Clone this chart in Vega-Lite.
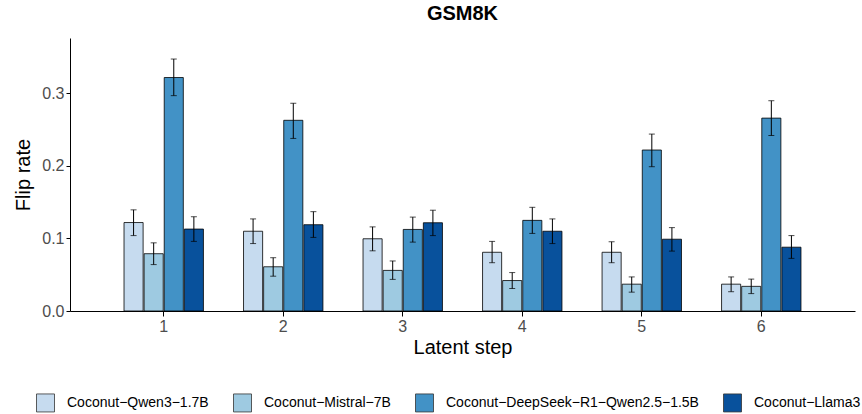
{
  "$schema": "https://vega.github.io/schema/vega-lite/v6.json",
  "autosize": {"type": "none"},
  "padding": {"left": 70, "top": 38, "right": 7, "bottom": 103},
  "width": 785,
  "height": 273,
  "background": "white",
  "title": {"text": "GSM8K", "fontSize": 20, "fontWeight": "bold", "color": "black", "anchor": "middle", "offset": 14},
  "config": {
    "font": "Liberation Sans",
    "view": {"stroke": null},
    "axis": {"grid": false, "domainColor": "black", "tickColor": "black", "labelColor": "#4d4d4d", "titleColor": "black", "titleFontWeight": "normal", "labelFontSize": 16, "titleFontSize": 20}
  },
  "data": {"values": [
    {"step": "1", "model": "Coconut−Qwen3−1.7B", "rate": 0.122, "lo": 0.104, "hi": 0.1395},
    {"step": "1", "model": "Coconut−Mistral−7B", "rate": 0.079, "lo": 0.064, "hi": 0.094},
    {"step": "1", "model": "Coconut−DeepSeek−R1−Qwen2.5−1.5B", "rate": 0.322, "lo": 0.297, "hi": 0.3475},
    {"step": "1", "model": "Coconut−Llama3", "rate": 0.113, "lo": 0.096, "hi": 0.130},
    {"step": "2", "model": "Coconut−Qwen3−1.7B", "rate": 0.110, "lo": 0.093, "hi": 0.127},
    {"step": "2", "model": "Coconut−Mistral−7B", "rate": 0.061, "lo": 0.048, "hi": 0.0735},
    {"step": "2", "model": "Coconut−DeepSeek−R1−Qwen2.5−1.5B", "rate": 0.263, "lo": 0.238, "hi": 0.2865},
    {"step": "2", "model": "Coconut−Llama3", "rate": 0.119, "lo": 0.1015, "hi": 0.137},
    {"step": "3", "model": "Coconut−Qwen3−1.7B", "rate": 0.0996, "lo": 0.083, "hi": 0.116},
    {"step": "3", "model": "Coconut−Mistral−7B", "rate": 0.056, "lo": 0.0436, "hi": 0.069},
    {"step": "3", "model": "Coconut−DeepSeek−R1−Qwen2.5−1.5B", "rate": 0.1125, "lo": 0.095, "hi": 0.1295},
    {"step": "3", "model": "Coconut−Llama3", "rate": 0.1217, "lo": 0.104, "hi": 0.139},
    {"step": "4", "model": "Coconut−Qwen3−1.7B", "rate": 0.081, "lo": 0.0666, "hi": 0.096},
    {"step": "4", "model": "Coconut−Mistral−7B", "rate": 0.042, "lo": 0.031, "hi": 0.053},
    {"step": "4", "model": "Coconut−DeepSeek−R1−Qwen2.5−1.5B", "rate": 0.125, "lo": 0.107, "hi": 0.143},
    {"step": "4", "model": "Coconut−Llama3", "rate": 0.110, "lo": 0.093, "hi": 0.127},
    {"step": "5", "model": "Coconut−Qwen3−1.7B", "rate": 0.081, "lo": 0.0666, "hi": 0.0955},
    {"step": "5", "model": "Coconut−Mistral−7B", "rate": 0.037, "lo": 0.026, "hi": 0.047},
    {"step": "5", "model": "Coconut−DeepSeek−R1−Qwen2.5−1.5B", "rate": 0.222, "lo": 0.199, "hi": 0.244},
    {"step": "5", "model": "Coconut−Llama3", "rate": 0.099, "lo": 0.0826, "hi": 0.115},
    {"step": "6", "model": "Coconut−Qwen3−1.7B", "rate": 0.037, "lo": 0.0266, "hi": 0.047},
    {"step": "6", "model": "Coconut−Mistral−7B", "rate": 0.034, "lo": 0.024, "hi": 0.044},
    {"step": "6", "model": "Coconut−DeepSeek−R1−Qwen2.5−1.5B", "rate": 0.266, "lo": 0.242, "hi": 0.290},
    {"step": "6", "model": "Coconut−Llama3", "rate": 0.088, "lo": 0.0726, "hi": 0.104}
  ]},
  "encoding": {
    "x": {"field": "step", "type": "ordinal", "title": "Latent step",
      "scale": {"paddingInner": 0.3356, "paddingOuter": 0.452},
      "axis": {"labelAngle": 0, "tickSize": 5, "labelPadding": 2, "titlePadding": 3}},
    "xOffset": {"field": "model", "type": "nominal",
      "sort": ["Coconut−Qwen3−1.7B", "Coconut−Mistral−7B", "Coconut−DeepSeek−R1−Qwen2.5−1.5B", "Coconut−Llama3"],
      "scale": {"paddingInner": 0.05, "paddingOuter": 0}}
  },
  "layer": [
    {
      "mark": {"type": "bar", "stroke": "black", "strokeWidth": 0.8},
      "encoding": {
        "y": {"field": "rate", "type": "quantitative", "title": "Flip rate",
          "scale": {"domain": [0, 0.3765], "nice": false},
          "axis": {"values": [0, 0.1, 0.2, 0.3], "format": ".1f", "tickSize": 4, "labelPadding": 2, "titlePadding": 8}},
        "color": {"field": "model", "type": "nominal", "title": null,
          "sort": ["Coconut−Qwen3−1.7B", "Coconut−Mistral−7B", "Coconut−DeepSeek−R1−Qwen2.5−1.5B", "Coconut−Llama3"],
          "scale": {"domain": ["Coconut−Qwen3−1.7B", "Coconut−Mistral−7B", "Coconut−DeepSeek−R1−Qwen2.5−1.5B", "Coconut−Llama3"],
            "range": ["#c6dbef", "#9ecae1", "#4292c6", "#08519c"]},
          "legend": {"orient": "none", "legendX": -34, "legendY": 355, "direction": "horizontal", "columns": 4,
            "symbolType": "square", "symbolSize": 324, "symbolStrokeColor": "#333333", "symbolStrokeWidth": 0.8, "symbolOpacity": 1,
            "labelFontSize": 14, "labelColor": "black", "labelOffset": 12, "columnPadding": 22, "padding": 0, "labelLimit": 400}}
      }
    },
    {
      "mark": {"type": "rule", "color": "black", "strokeWidth": 1},
      "encoding": {"y": {"field": "lo", "type": "quantitative"}, "y2": {"field": "hi"}}
    },
    {
      "mark": {"type": "tick", "color": "black", "orient": "horizontal", "size": 6, "thickness": 1},
      "encoding": {"y": {"field": "lo", "type": "quantitative"}}
    },
    {
      "mark": {"type": "tick", "color": "black", "orient": "horizontal", "size": 6, "thickness": 1},
      "encoding": {"y": {"field": "hi", "type": "quantitative"}}
    }
  ]
}
